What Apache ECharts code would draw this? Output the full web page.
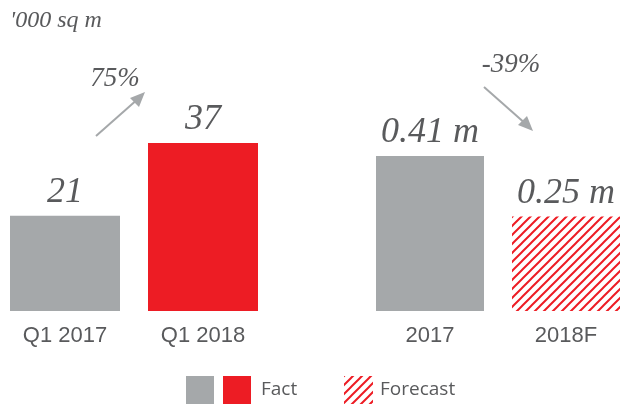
<!DOCTYPE html>
<html>
<head>
<meta charset="utf-8">
<script src="https://cdn.jsdelivr.net/npm/echarts@6/dist/echarts.min.js"></script>
<style>
  html, body { margin: 0; padding: 0; background: #fff; }
  #chart { width: 627px; height: 407px; }
</style>
</head>
<body>
<div id="chart"></div>
<script>
// 数据
var quarterCats = ['Q1 2017', 'Q1 2018'];
var quarterVals = [21, 37];
var yearCats = ['2017', '2018F'];
var yearVals = [0.41, 0.25];
var quarterChange = '75%';
var yearChange = '-39%';

var GRAY = '#a5a8aa';
var RED = '#ed1c24';
var TXT = '#595a5c';

// 斜线填充
function hatch() {
    var s = 9;
    var c = document.createElement('canvas');
    c.width = s; c.height = s;
    var ctx = c.getContext('2d');
    ctx.strokeStyle = RED;
    ctx.lineWidth = 2;
    ctx.beginPath();
    ctx.moveTo(0, s); ctx.lineTo(s, 0);
    ctx.moveTo(-1, 1); ctx.lineTo(1, -1);
    ctx.moveTo(s - 1, s + 1); ctx.lineTo(s + 1, s - 1);
    ctx.stroke();
    return { image: c, repeat: 'repeat' };
}

var dom = document.getElementById('chart');
var myChart = echarts.init(dom);
var pattern = hatch();

var valueLabel = {
    show: true,
    position: 'top',
    distance: 5,
    fontFamily: 'Liberation Serif',
    fontStyle: 'italic',
    fontSize: 36,
    color: TXT
};
var catLabel = {
    fontFamily: 'Liberation Sans',
    fontSize: 22,
    color: TXT,
    margin: 14
};

var option = {
    animation: false,
    grid: [
        { left: 65, width: 138, top: 84, bottom: 96 },
        { left: 430, width: 136, top: 84, bottom: 96 }
    ],
    xAxis: [
        { type: 'category', gridIndex: 0, boundaryGap: false, data: quarterCats, axisLine: { show: false }, axisTick: { show: false }, splitLine: { show: false }, axisLabel: catLabel },
        { type: 'category', gridIndex: 1, boundaryGap: false, data: yearCats, axisLine: { show: false }, axisTick: { show: false }, splitLine: { show: false }, axisLabel: catLabel }
    ],
    yAxis: [
        { type: 'value', gridIndex: 0, min: 0, max: 50, show: false },
        { type: 'value', gridIndex: 1, min: 0, max: 0.6, show: false }
    ],
    series: [
        {
            type: 'bar',
            xAxisIndex: 0, yAxisIndex: 0,
            barWidth: 110,
            clip: false,
            data: quarterVals.map(function (v, i) {
                return { value: v, itemStyle: { color: i === 0 ? GRAY : RED } };
            }),
            label: valueLabel
        },
        {
            type: 'bar',
            xAxisIndex: 1, yAxisIndex: 1,
            barWidth: 108,
            clip: false,
            data: yearVals.map(function (v, i) {
                return { value: v, itemStyle: { color: i === 0 ? GRAY : pattern } };
            }),
            label: Object.assign({}, valueLabel, {
                formatter: function (p) { return p.value + ' m'; }
            })
        }
    ],
    graphic: [
        {
            type: 'text', left: 10, top: 9,
            style: { text: "'000 sq m", fontFamily: 'Liberation Serif', fontStyle: 'italic', fontSize: 24, fill: TXT }
        },
        // 箭头
        { type: 'line', shape: { x1: 96, y1: 136, x2: 139, y2: 98 }, style: { stroke: GRAY, lineWidth: 2 } },
        { type: 'polygon', shape: { points: [[145, 92], [130, 98], [139, 107]] }, style: { fill: GRAY } },
        {
            type: 'text', x: 115, y: 79,
            style: { text: quarterChange, fontFamily: 'Liberation Serif', fontStyle: 'italic', fontSize: 27, fill: TXT, align: 'center', verticalAlign: 'middle' }
        },
        { type: 'line', shape: { x1: 484, y1: 87, x2: 527, y2: 125 }, style: { stroke: GRAY, lineWidth: 2 } },
        { type: 'polygon', shape: { points: [[533, 131], [518, 125], [527, 116]] }, style: { fill: GRAY } },
        {
            type: 'text', x: 511, y: 65,
            style: { text: yearChange, fontFamily: 'Liberation Serif', fontStyle: 'italic', fontSize: 27, fill: TXT, align: 'center', verticalAlign: 'middle' }
        },
        // 图例
        { type: 'rect', shape: { x: 186, y: 376, width: 28, height: 28 }, style: { fill: GRAY } },
        { type: 'rect', shape: { x: 223, y: 376, width: 28, height: 28 }, style: { fill: RED } },
        {
            type: 'text', x: 261, y: 390,
            style: { text: 'Fact', fontFamily: 'Open Sans', fontSize: 19, fill: TXT, verticalAlign: 'middle' }
        },
        { type: 'rect', shape: { x: 344, y: 376, width: 29, height: 28 }, style: { fill: pattern } },
        {
            type: 'text', x: 380, y: 390,
            style: { text: 'Forecast', fontFamily: 'Open Sans', fontSize: 19, fill: TXT, verticalAlign: 'middle' }
        }
    ]
};

if (option && typeof option === "object") {
    myChart.setOption(option, true);
}
</script>
</body>
</html>
